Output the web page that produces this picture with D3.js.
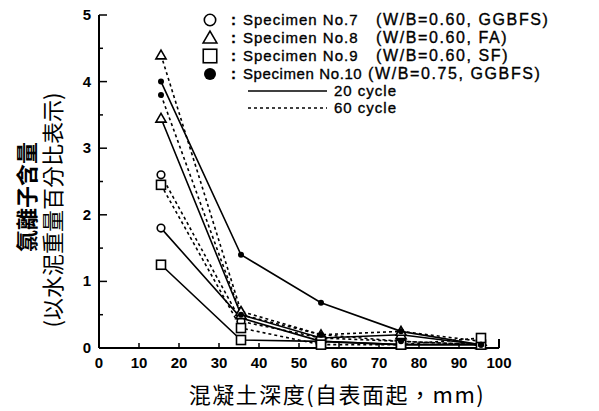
<!DOCTYPE html>
<html><head><meta charset="utf-8">
<script src="https://cdn.jsdelivr.net/npm/d3@7"></script>
<style>body{margin:0;background:#fff}svg{display:block}</style>
</head><body>
<svg id="c" width="599" height="411"></svg>
<script>
const depths = [15.5, 35.5, 55.5, 75.5, 95.5];
const no7_20 = [1.8, 0.45, 0.1, 0.05, 0.05];
const no7_60 = [2.6, 0.4, 0.15, 0.1, 0.05];
const no8_20 = [3.45, 0.5, 0.15, 0.2, 0.05];
const no8_60 = [4.4, 0.55, 0.2, 0.25, 0.1];
const no9_20 = [1.25, 0.12, 0.1, 0.05, 0.05];
const no9_60 = [2.45, 0.3, 0.05, 0.05, 0.15];
const no10_20 = [4.0, 1.4, 0.68, 0.25, 0.05];
const no10_60 = [3.8, 0.5, 0.2, 0.1, 0.05];
const xTicks = [0,10,20,30,40,50,60,70,80,90,100];
const yTicks = [0,1,2,3,4,5];
const legendLabels = ["Specimen No.7","Specimen No.8","Specimen No.9","Specimen No.10"];
const legendParens = ["(W/B=0.60, GGBFS)","(W/B=0.60, FA)","(W/B=0.60, SF)","(W/B=0.75, GGBFS)"];
const cycleLabels = ["20 cycle","60 cycle"];
const yTitle1 = "氯離子含量";
const yTitle2 = "(以水泥重量百分比表示)";
const xTitle = "混凝土深度(自表面起，mm)";

const series = [
  {v:no7_20, m:"circle", dash:false},
  {v:no7_60, m:"circle", dash:true},
  {v:no8_20, m:"triangle", dash:false},
  {v:no8_60, m:"triangle", dash:true},
  {v:no9_20, m:"square", dash:false},
  {v:no9_60, m:"square", dash:true},
  {v:no10_20, m:"dot", dash:false},
  {v:no10_60, m:"dot", dash:true}
];

const svg = d3.select("#c");
const x = d3.scaleLinear().domain([0,100]).range([99,499]);
const y = d3.scaleLinear().domain([0,5]).range([348,15]);
const font = "'Liberation Sans', Arial, sans-serif";

// axes lines
const g = svg.append("g").attr("stroke","#000").attr("stroke-width",2);
g.append("line").attr("x1",x(0)).attr("x2",x(0)).attr("y1",y(5)).attr("y2",y(0));
g.append("line").attr("x1",x(0)).attr("x2",x(100)).attr("y1",y(0)).attr("y2",y(0));
g.append("line").attr("x1",x(100)).attr("x2",x(100)).attr("y1",y(0)).attr("y2",y(0)-9);
d3.range(0,5.01,0.5).forEach(v=>{
  const major = Math.abs(v-Math.round(v))<1e-6;
  g.append("line").attr("x1",x(0)).attr("x2",x(0)+(major?8:4)).attr("y1",y(v)).attr("y2",y(v)).attr("stroke-width",1.5);
});
xTicks.slice(1,-1).forEach(v=>{
  g.append("line").attr("x1",x(v)).attr("x2",x(v)).attr("y1",y(0)).attr("y2",y(0)-5).attr("stroke-width",1.5);
});
svg.selectAll(".xl").data(xTicks).enter().append("text")
  .attr("x",d=>x(d)).attr("y",368).attr("text-anchor","middle")
  .attr("font-family",font).attr("font-weight","bold").attr("font-size",15).text(d=>d);
svg.selectAll(".yl").data(yTicks).enter().append("text")
  .attr("x",91).attr("y",d=>y(d)+5).attr("text-anchor","end")
  .attr("font-family",font).attr("font-weight","bold").attr("font-size",15).text(d=>d);

// titles
svg.append("text").attr("transform","translate(35,197) rotate(-90)").attr("text-anchor","middle")
  .attr("font-family","'Noto Sans CJK TC'").attr("font-weight","bold").attr("font-size",22).text(yTitle1);
svg.append("text").attr("transform","translate(61,210) rotate(-90)").attr("text-anchor","middle")
  .attr("font-family","'Noto Sans CJK TC'").attr("font-size",22).text(yTitle2);
svg.append("text").attr("x",337).attr("y",403).attr("text-anchor","middle")
  .attr("font-family","'Noto Sans CJK TC'").attr("font-size",22).attr("letter-spacing",1.5).text(xTitle);

// lines
const line = d3.line().x((d,i)=>x(depths[i])).y(d=>y(d));
series.forEach(s=>{
  svg.append("path").attr("d",line(s.v)).attr("fill","none").attr("stroke","#000")
    .attr("stroke-width",1.6).attr("stroke-dasharray",s.dash?"3,3":null);
});
function marker(sel, m, cx, cy, scale){
  if(m==="circle") sel.append("circle").attr("cx",cx).attr("cy",cy).attr("r",3.8*scale).attr("fill","#fff").attr("stroke","#000").attr("stroke-width",1.6);
  else if(m==="square") sel.append("rect").attr("x",cx-4.5*scale).attr("y",cy-4.5*scale).attr("width",9*scale).attr("height",9*scale).attr("fill","#fff").attr("stroke","#000").attr("stroke-width",1.6);
  else if(m==="triangle") sel.append("path").attr("d",d3.symbol(d3.symbolTriangle, 45*scale*scale)()).attr("transform",`translate(${cx},${cy+1})`).attr("fill","#fff").attr("stroke","#000").attr("stroke-width",1.6);
  else sel.append("circle").attr("cx",cx).attr("cy",cy).attr("r",(scale>1?6:3)).attr("fill","#000");
}
const mg = svg.append("g");
series.forEach(s=>{
  s.v.forEach((v,i)=>marker(mg, s.m, x(depths[i]), y(v), 1));
});

// legend
const rows = [20,38,56,74];
const lms = ["circle","triangle","square","dot"];
const pX = [376,376,376,368];
const lg = svg.append("g").attr("font-family",font).attr("stroke","#000").attr("stroke-width",0.35);
rows.forEach((ry,i)=>{
  marker(svg, lms[i], 210, ry, i===3?1.5:(i===1?1.35:1.5));
  lg.append("text").attr("x",231).attr("y",ry+5).attr("font-weight","bold").attr("font-size",15).text(":");
  lg.append("text").attr("x",243).attr("y",ry+5).attr("font-size",15)
    .attr("letter-spacing",i===3?0.6:1).text(legendLabels[i]);
  lg.append("text").attr("x",pX[i]).attr("y",ry+5).attr("font-size",16)
    .attr("letter-spacing",1.6).text(legendParens[i]);
});
[91,108].forEach((ry,i)=>{
  svg.append("line").attr("x1",248).attr("x2",327).attr("y1",ry).attr("y2",ry).attr("stroke","#000")
    .attr("stroke-width",1.6).attr("stroke-dasharray",i?"3,3":null);
  lg.append("text").attr("x",334).attr("y",ry+5).attr("font-size",15)
    .attr("letter-spacing",1).text(cycleLabels[i]);
});
</script>
</body></html>
